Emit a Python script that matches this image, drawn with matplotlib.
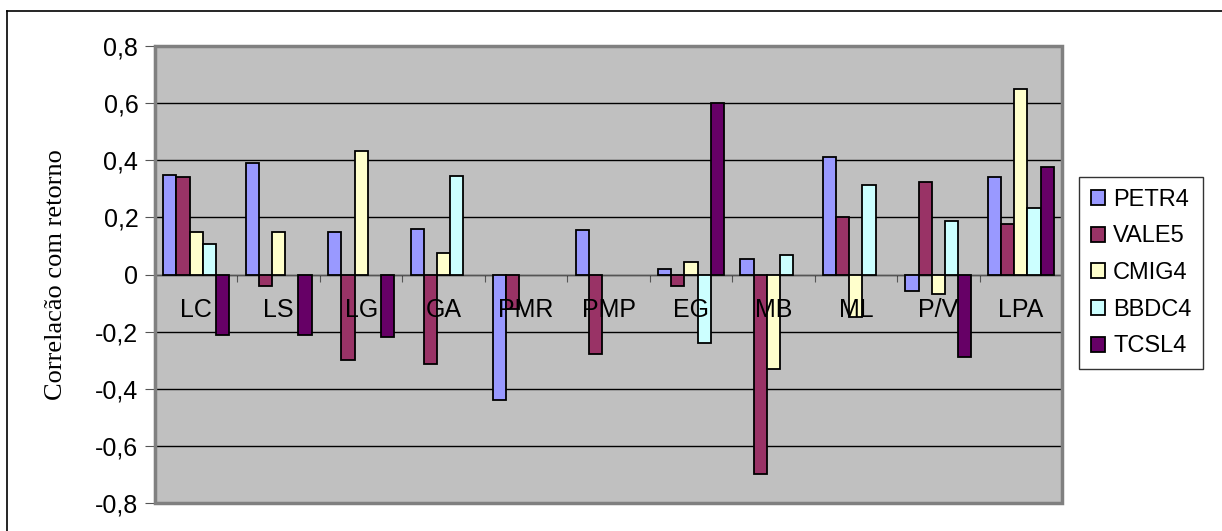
import numpy as np
import matplotlib.pyplot as plt
from matplotlib.patches import Rectangle

# categorias e series; nan = sem barra
nan = np.nan
categorias = ["LC", "LS", "LG", "GA", "PMR", "PMP", "EG", "MB", "ML", "P/V", "LPA"]
series = ["PETR4", "VALE5", "CMIG4", "BBDC4", "TCSL4"]

petr4 = [0.35, 0.39, 0.15, 0.16, -0.44, 0.155, 0.02, 0.053, 0.41, -0.058, 0.34]
vale5 = [0.34, -0.042, -0.30, -0.315, -0.12, -0.277, -0.042, -0.70, 0.20, 0.325, 0.177]
cmig4 = [0.148, 0.148, 0.433, 0.074, nan, nan, 0.043, -0.33, -0.15, -0.07, 0.65]
bbdc4 = [0.107, nan, nan, 0.345, nan, nan, -0.24, 0.07, 0.314, 0.186, 0.234]
tcsl4 = [-0.213, -0.213, -0.219, nan, nan, nan, 0.60, nan, nan, -0.288, 0.378]

cores = ["#9999FF", "#993366", "#FFFFCC", "#CCFFFF", "#660066"]
valores = [petr4, vale5, cmig4, bbdc4, tcsl4]

fig = plt.figure(figsize=(12.22, 5.31), dpi=100)
ax = fig.add_axes([155 / 1222, 28 / 531, 907 / 1222, 457 / 531])
ax.set_facecolor("#C0C0C0")

x = np.arange(len(categorias))
w = 0.16
for k, (nome, vals, cor) in enumerate(zip(series, valores, cores)):
    ax.bar(x + (k - 2) * w, vals, width=w, color=cor, edgecolor="black",
           linewidth=1.3, label=nome, zorder=3)

ax.set_xlim(-0.5, len(categorias) - 0.5)
ax.set_ylim(-0.8, 0.8)
yt = np.round(np.arange(-0.8, 0.81, 0.2), 1)
ax.set_yticks(yt)
ax.set_yticklabels(["0" if v == 0 else f"{v:.1f}".replace(".", ",") for v in yt],
                   fontsize=18, family="Liberation Sans")
ax.yaxis.grid(True, color="black", linewidth=1, zorder=0)
ax.set_axisbelow(True)

# eixo x na linha zero, marcas nas divisas
ax.set_xticks(x[:-1] + 0.5)
ax.set_xticklabels([])
ax.spines["bottom"].set_position(("data", 0))
ax.spines["bottom"].set_color("#555555")
ax.tick_params(axis="x", direction="out", length=5, color="#555555")
ax.tick_params(axis="y", direction="out", length=7, color="#555555", pad=5)
ax.spines["left"].set_color("#666666")
ax.spines["left"].set_linewidth(1.5)

# borda da area do grafico
ax.add_patch(Rectangle((0, 0), 1, 1, transform=ax.transAxes, fill=False,
                       edgecolor="#808080", linewidth=2.5, zorder=5, clip_on=False))
ax.spines["top"].set_visible(False)
ax.spines["right"].set_visible(False)

for i, c in enumerate(categorias):
    ax.text(i, -0.125, c, ha="center", va="center", fontsize=18,
            family="Liberation Sans", zorder=6)

ax.set_ylabel("Correlacão com retorno", family="Liberation Serif", fontsize=19, labelpad=20)

leg = ax.legend(loc="upper left", bbox_to_anchor=(1079 / 1222, 1 - 177 / 531),
                bbox_transform=fig.transFigure, prop={"family": "Liberation Sans", "size": 17},
                frameon=True, fancybox=False, edgecolor="black", handlelength=0.6,
                handleheight=0.6, handletextpad=0.35, labelspacing=0.62, borderpad=0.5,
                borderaxespad=0)
leg.get_frame().set_linewidth(1)

# moldura externa
fig.add_artist(plt.Line2D([7 / 1222, 7 / 1222], [0, 1 - 11 / 531], color="black", linewidth=1.2))
fig.add_artist(plt.Line2D([7 / 1222, 1], [1 - 11 / 531, 1 - 11 / 531], color="black", linewidth=1.2))

fig.savefig("out.png", dpi=100)
